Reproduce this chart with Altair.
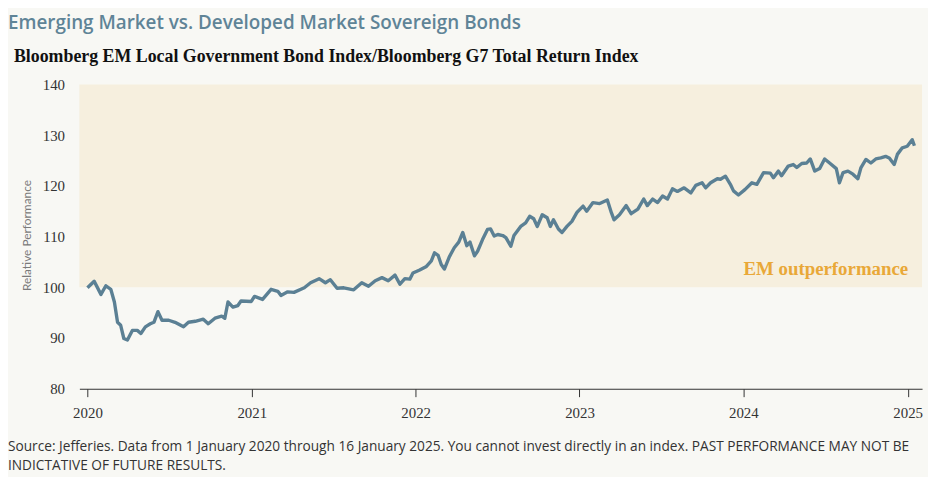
import altair as alt
import pandas as pd

# ---- data ----
dates = [
    "2020-01-01", "2020-01-16", "2020-01-31", "2020-02-11", "2020-02-22", "2020-03-01",
    "2020-03-08", "2020-03-15", "2020-03-22", "2020-03-30", "2020-04-10", "2020-04-21",
    "2020-04-29", "2020-05-09", "2020-05-20", "2020-05-28", "2020-06-06", "2020-06-15",
    "2020-06-30", "2020-07-14", "2020-08-02", "2020-08-13", "2020-08-28", "2020-09-15",
    "2020-09-26", "2020-10-11", "2020-10-26", "2020-11-02", "2020-11-09", "2020-11-20",
    "2020-12-01", "2020-12-08", "2020-12-31",
    "2021-01-07", "2021-01-25", "2021-02-13", "2021-02-28", "2021-03-07", "2021-03-22",
    "2021-04-05", "2021-04-28", "2021-05-12", "2021-05-31", "2021-06-14", "2021-06-25",
    "2021-07-10", "2021-07-25", "2021-08-16", "2021-09-03", "2021-09-18", "2021-10-03",
    "2021-10-18", "2021-11-01", "2021-11-16", "2021-11-27", "2021-12-08", "2021-12-19",
    "2021-12-26",
    "2022-01-10", "2022-01-25", "2022-02-05", "2022-02-12", "2022-02-20", "2022-02-27",
    "2022-03-06", "2022-03-17", "2022-03-28", "2022-04-07", "2022-04-16", "2022-04-25",
    "2022-05-02", "2022-05-12", "2022-05-19", "2022-05-30", "2022-06-10", "2022-06-17",
    "2022-06-25", "2022-07-03", "2022-07-14", "2022-07-21", "2022-08-01", "2022-08-08",
    "2022-08-23", "2022-09-03", "2022-09-12", "2022-09-21", "2022-09-29", "2022-10-10",
    "2022-10-21", "2022-10-28", "2022-11-04", "2022-11-15", "2022-11-23", "2022-12-04",
    "2022-12-15", "2022-12-26", "2022-12-29",
    "2023-01-09", "2023-01-17", "2023-01-31", "2023-02-15", "2023-03-04", "2023-03-13",
    "2023-03-19", "2023-03-31", "2023-04-15", "2023-04-26", "2023-05-11", "2023-05-24",
    "2023-06-01", "2023-06-13", "2023-06-24", "2023-07-05", "2023-07-16", "2023-07-27",
    "2023-08-07", "2023-08-22", "2023-09-06", "2023-09-17", "2023-10-01", "2023-10-09",
    "2023-10-20", "2023-11-04", "2023-11-11", "2023-11-22", "2023-12-03", "2023-12-10",
    "2023-12-21",
    "2024-01-05", "2024-01-20", "2024-01-31", "2024-02-15", "2024-03-01", "2024-03-08",
    "2024-03-19", "2024-03-26", "2024-04-10", "2024-04-21", "2024-04-29", "2024-05-10",
    "2024-05-21", "2024-05-29", "2024-06-08", "2024-06-19", "2024-06-30", "2024-07-11",
    "2024-07-26", "2024-08-02", "2024-08-10", "2024-08-21", "2024-09-01", "2024-09-12",
    "2024-09-19", "2024-09-30", "2024-10-11", "2024-10-22", "2024-11-02", "2024-11-13",
    "2024-11-21", "2024-12-02", "2024-12-09", "2024-12-20", "2024-12-31",
    "2025-01-11", "2025-01-16",
]
values = [
    99.9, 101.2, 98.6, 100.3, 99.6, 97.1,
    93.1, 92.5, 89.9, 89.6, 91.5, 91.5,
    90.9, 92.2, 92.8, 93.1, 95.2, 93.5,
    93.5, 93.1, 92.2, 93.1, 93.3, 93.7,
    92.8, 93.9, 94.3, 93.9, 97.1, 96.1,
    96.4, 97.3, 97.2,
    98.2, 97.6, 99.6, 99.2, 98.4, 99.1,
    99.0, 99.9, 100.9, 101.7, 100.9, 101.5,
    99.8, 99.9, 99.5, 100.9, 100.2, 101.3,
    101.9, 101.3, 102.4, 100.6, 101.7, 101.6,
    102.8,
    103.4, 104.1, 105.2, 106.8, 106.3, 104.5,
    103.6, 106.0, 107.8, 108.9, 110.8, 108.2,
    108.9, 106.2, 107.1, 109.4, 111.4, 111.5,
    110.1, 110.4, 110.2, 109.8, 108.1, 110.2,
    112.0, 112.7, 114.0, 113.5, 112.0, 114.3,
    113.7, 112.0, 113.3, 111.5, 110.8, 112.0,
    113.0, 114.7, 115.0,
    116.0, 115.0, 116.7, 116.5, 117.2, 114.7,
    113.3, 114.3, 116.1, 114.5, 115.4, 117.4,
    116.1, 117.4, 116.7, 118.0, 117.4, 119.4,
    118.9, 119.6, 118.6, 120.1, 120.6, 119.6,
    120.6, 121.4, 121.3, 121.9, 120.3, 119.0,
    118.2,
    119.3, 120.6, 120.3, 122.6, 122.5, 121.6,
    122.9, 122.0, 123.9, 124.2, 123.6, 124.4,
    124.5, 125.3, 122.9, 123.4, 125.3, 124.5,
    123.4, 120.6, 122.6, 122.9, 122.3, 121.4,
    123.6, 125.2, 124.5, 125.3, 125.5, 125.8,
    125.5, 124.2, 126.2, 127.5, 127.8,
    129.1, 127.9,
]
y_ticks = [80, 90, 100, 110, 120, 130, 140]
years = [2020, 2021, 2022, 2023, 2024, 2025]
band_low = [100]
band_high = [140]

title_text = "Emerging Market vs. Developed Market Sovereign Bonds"
subtitle_text = "Bloomberg EM Local Government Bond Index/Bloomberg G7 Total Return Index"
band_label = "EM outperformance"
footnote_lines = [
    "Source: Jefferies. Data from 1 January 2020 through 16 January 2025. You cannot invest directly in an index. PAST PERFORMANCE MAY NOT BE",
    "INDICTATIVE OF FUTURE RESULTS.",
]

df = pd.DataFrame({"date": dates, "value": values})
band_df = pd.DataFrame({"lo": band_low, "hi": band_high})

W, H = 850, 307

x_scale = alt.Scale(
    type="utc",
    domain=[alt.DateTime(year=2019, month=12, date=14, utc=True),
            alt.DateTime(year=2025, month=2, date=2, utc=True)],
)
y_scale = alt.Scale(domain=[80, 140], nice=False, zero=False)

x_axis = alt.Axis(
    values=[alt.DateTime(year=y, month=1, date=1, utc=True) for y in years],
    format="%Y", title=None, grid=False,
    domainColor="#333333", domainWidth=1.2,
    tickColor="#333333", tickSize=8, tickWidth=1,
    labelFont="Liberation Serif", labelFontSize=15, labelColor="#333333",
    labelPadding=9,
)
y_axis = alt.Axis(
    values=y_ticks, ticks=False, domain=False, grid=False,
    labelFont="Liberation Serif", labelFontSize=15, labelColor="#333333",
    labelPadding=15,
    title="Relative Performance", titleFont="Lato", titleFontSize=12,
    titleFontWeight="normal", titleColor="#7a7a7a",
    titleX=-53, titleY=152, titleBaseline="middle", titleAngle=-90,
)

band = alt.Chart(band_df).mark_rect(color="#f6efde").encode(
    x=alt.value(0), x2=alt.value(W),
    y=alt.Y("lo:Q", scale=y_scale, axis=y_axis),
    y2="hi:Q",
)

line = alt.Chart(df).mark_line(color="#5b8094", strokeWidth=3.4, strokeJoin="round").encode(
    x=alt.X("date:T", scale=x_scale, axis=x_axis),
    y=alt.Y("value:Q", scale=y_scale, axis=y_axis),
)

label_df = pd.DataFrame({"t": [band_label]})
band_text = alt.Chart(label_df).mark_text(
    font="Liberation Serif", fontSize=19, fontWeight="bold", color="#e9a838",
    align="right", baseline="middle",
).encode(x=alt.value(836), y=alt.value(186), text="t:N")

title_df = pd.DataFrame({"t": [title_text]})
title_mark = alt.Chart(title_df).mark_text(
    font="Open Sans", fontSize=19, fontWeight=600, color="#5f8497",
    align="left", baseline="middle",
).encode(x=alt.value(-72), y=alt.value(-62), text="t:N")

sub_df = pd.DataFrame({"t": [subtitle_text]})
sub_mark = alt.Chart(sub_df).mark_text(
    font="Liberation Serif", fontSize=18, fontWeight="bold", color="#111111",
    align="left", baseline="middle",
).encode(x=alt.value(-66), y=alt.value(-28), text="t:N")

foot1 = alt.Chart(pd.DataFrame({"t": [footnote_lines[0]]})).mark_text(
    font="Open Sans", fontSize=13.8, color="#333333", align="left", baseline="middle",
).encode(x=alt.value(-72), y=alt.value(366), text="t:N")
foot2 = alt.Chart(pd.DataFrame({"t": [footnote_lines[1]]})).mark_text(
    font="Open Sans", fontSize=13.8, color="#333333", align="left", baseline="middle",
).encode(x=alt.value(-72), y=alt.value(385), text="t:N")

chart = alt.layer(band, line, band_text, title_mark, sub_mark, foot1, foot2).properties(
    width=W, height=H,
    padding={"left": 72, "top": 75, "right": 6, "bottom": 87},
    autosize=alt.AutoSizeParams(type="none"),
    background="#f8f8f4",
).configure_view(stroke=None)

chart.save("out.html", embed_options={"renderer": "svg", "actions": False})
